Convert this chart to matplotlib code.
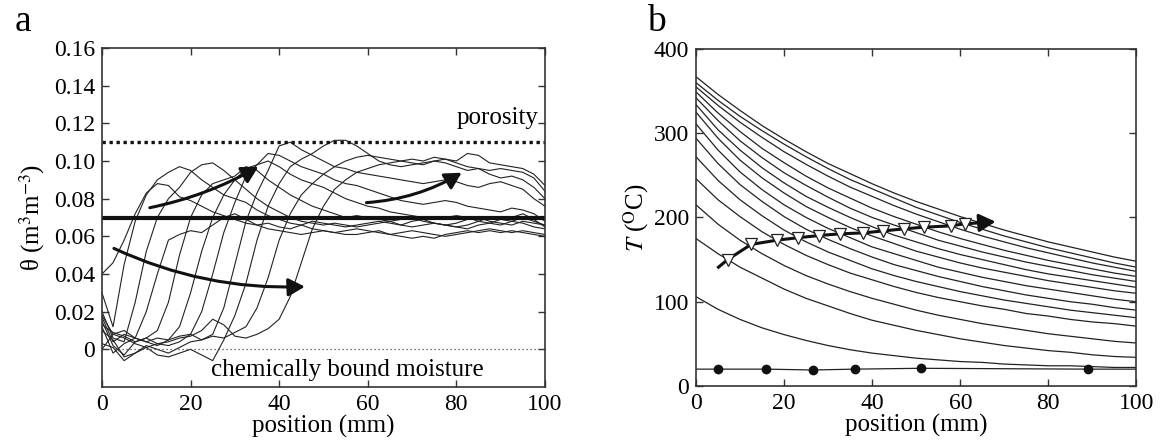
import matplotlib
matplotlib.use("Agg")
import matplotlib.pyplot as plt
import numpy as np

plt.rcParams["font.family"] = ["Liberation Serif", "DejaVu Serif"]
plt.rcParams["mathtext.fontset"] = "stix"

# ---- panel a: moisture profiles, sampled every 2.5 mm ----
pos_a = np.arange(0, 100.1, 2.5)
theta_profiles = [
    [0.040, 0.046, 0.058, 0.072, 0.083, 0.088, 0.087, 0.081, 0.079, 0.076, 0.073, 0.071, 0.069, 0.067,
     0.066, 0.067, 0.065, 0.064, 0.066, 0.068, 0.067, 0.066, 0.065, 0.066, 0.067, 0.068, 0.067, 0.066,
     0.068, 0.069, 0.067, 0.066, 0.065, 0.066, 0.068, 0.070, 0.069, 0.068, 0.070, 0.068, 0.066],
    [0.030, 0.012, 0.045, 0.068, 0.082, 0.090, 0.094, 0.097, 0.095, 0.090, 0.086, 0.082, 0.080, 0.078,
     0.074, 0.071, 0.069, 0.067, 0.066, 0.064, 0.063, 0.062, 0.063, 0.064, 0.063, 0.062, 0.061, 0.062,
     0.063, 0.062, 0.061, 0.060, 0.061, 0.062, 0.063, 0.064, 0.063, 0.062, 0.063, 0.062, 0.061],
    [0.020, 0.006, 0.004, 0.025, 0.052, 0.070, 0.080, 0.086, 0.094, 0.098, 0.099, 0.095, 0.090, 0.085,
     0.080, 0.076, 0.073, 0.070, 0.068, 0.067, 0.066, 0.067, 0.066, 0.065, 0.066, 0.067, 0.068, 0.066,
     0.065, 0.066, 0.067, 0.066, 0.065, 0.064, 0.066, 0.067, 0.066, 0.068, 0.067, 0.065, 0.064],
    [0.017, 0.004, 0.008, 0.006, 0.020, 0.040, 0.058, 0.061, 0.063, 0.062, 0.066, 0.070, 0.072, 0.069,
     0.066, 0.064, 0.063, 0.062, 0.061, 0.062, 0.063, 0.062, 0.061, 0.061, 0.062, 0.063, 0.061, 0.060,
     0.059, 0.060, 0.059, 0.061, 0.062, 0.063, 0.062, 0.063, 0.062, 0.063, 0.062, 0.061, 0.060],
    [0.015, 0.002, -0.003, 0.004, 0.006, 0.010, 0.025, 0.050, 0.070, 0.082, 0.088, 0.090, 0.092, 0.097,
     0.095, 0.090, 0.086, 0.082, 0.079, 0.076, 0.074, 0.072, 0.070, 0.071, 0.070, 0.069, 0.068, 0.069,
     0.070, 0.068, 0.067, 0.066, 0.067, 0.069, 0.070, 0.068, 0.067, 0.066, 0.068, 0.067, 0.066],
    [0.012, -0.002, 0.003, 0.006, 0.004, 0.002, 0.005, 0.012, 0.030, 0.052, 0.070, 0.082, 0.090, 0.096,
     0.098, 0.100, 0.097, 0.093, 0.090, 0.088, 0.086, 0.083, 0.080, 0.078, 0.076, 0.075, 0.073, 0.072,
     0.071, 0.070, 0.069, 0.070, 0.071, 0.070, 0.068, 0.067, 0.069, 0.070, 0.072, 0.069, 0.065],
    [0.010, 0.005, -0.004, -0.002, 0.001, 0.003, 0.002, 0.004, 0.008, 0.020, 0.040, 0.062, 0.078, 0.092,
     0.098, 0.104, 0.103, 0.100, 0.097, 0.095, 0.093, 0.090, 0.088, 0.087, 0.085, 0.083, 0.081, 0.079,
     0.078, 0.077, 0.078, 0.079, 0.078, 0.076, 0.075, 0.074, 0.073, 0.075, 0.074, 0.072, 0.068],
    [0.003, 0.001, -0.006, -0.002, 0.002, 0.000, -0.002, 0.001, 0.004, 0.005, 0.008, 0.022, 0.045, 0.068,
     0.083, 0.095, 0.108, 0.110, 0.106, 0.103, 0.100, 0.097, 0.096, 0.094, 0.093, 0.092, 0.091, 0.090,
     0.089, 0.088, 0.089, 0.090, 0.089, 0.087, 0.086, 0.088, 0.089, 0.087, 0.085, 0.080, 0.076],
    [0.000, 0.008, 0.006, 0.003, 0.001, -0.003, -0.004, -0.002, 0.000, -0.003, -0.006, 0.005, 0.018, 0.035,
     0.058, 0.076, 0.088, 0.097, 0.101, 0.104, 0.108, 0.111, 0.111, 0.108, 0.104, 0.100, 0.098, 0.097,
     0.098, 0.099, 0.100, 0.099, 0.097, 0.095, 0.096, 0.093, 0.091, 0.092, 0.090, 0.086, 0.080],
    [0.018, 0.008, 0.010, 0.006, 0.004, 0.006, 0.005, 0.007, 0.008, 0.005, 0.007, 0.006, 0.009, 0.012,
     0.022, 0.038, 0.058, 0.072, 0.082, 0.088, 0.093, 0.097, 0.100, 0.102, 0.103, 0.102, 0.101, 0.100,
     0.101, 0.100, 0.102, 0.101, 0.100, 0.104, 0.103, 0.099, 0.098, 0.097, 0.096, 0.093, 0.087],
    [0.013, 0.009, 0.007, 0.004, 0.006, 0.003, 0.004, 0.006, 0.007, 0.010, 0.016, 0.013, 0.007, 0.006,
     0.008, 0.011, 0.016, 0.028, 0.046, 0.064, 0.076, 0.085, 0.090, 0.094, 0.096, 0.098, 0.099, 0.100,
     0.099, 0.098, 0.100, 0.101, 0.099, 0.097, 0.096, 0.095, 0.096, 0.095, 0.094, 0.091, 0.084],
]
porosity = 0.11
initial_theta = 0.07
bound_moisture = 0.0
theta_ticks = [0, 0.02, 0.04, 0.06, 0.08, 0.10, 0.12, 0.14, 0.16]
theta_ticklabels = ["0", "0.02", "0.04", "0.06", "0.08", "0.10", "0.12", "0.14", "0.16"]

# ---- panel b: temperature profiles, sampled every 5 mm ----
pos_b = np.arange(0, 100.1, 5)
temp_profiles = [
    [367, 346, 327, 309, 293, 278, 264, 252, 240, 229, 219, 210, 201, 193, 185, 178, 171, 165, 159, 153, 148],
    [360, 339, 320, 303, 287, 272, 258, 245, 234, 223, 212, 203, 194, 186, 178, 171, 164, 158, 152, 146, 141],
    [355, 333, 313, 295, 278, 263, 249, 236, 225, 214, 204, 195, 186, 178, 171, 164, 158, 152, 146, 141, 136],
    [349, 324, 302, 282, 265, 249, 235, 223, 211, 201, 192, 183, 175, 168, 161, 155, 149, 144, 139, 134, 130],
    [342, 315, 291, 271, 253, 238, 224, 211, 200, 191, 182, 173, 166, 159, 153, 147, 142, 137, 132, 128, 124],
    [334, 304, 280, 259, 241, 225, 212, 200, 189, 179, 171, 163, 156, 150, 144, 138, 133, 129, 125, 121, 117],
    [325, 294, 268, 247, 229, 213, 200, 188, 178, 169, 160, 153, 146, 140, 135, 130, 125, 121, 117, 113, 110],
    [311, 280, 254, 233, 215, 200, 187, 176, 165, 157, 149, 141, 135, 129, 124, 119, 115, 111, 107, 103, 100],
    [294, 264, 239, 219, 201, 186, 174, 163, 153, 144, 137, 130, 124, 118, 113, 108, 104, 100, 97, 93, 90],
    [272, 244, 221, 202, 185, 171, 159, 149, 139, 131, 124, 118, 112, 107, 102, 98, 94, 90, 87, 84, 81],
    [246, 221, 201, 183, 168, 155, 144, 134, 126, 118, 111, 105, 100, 95, 91, 86, 83, 79, 76, 74, 71],
    [215, 192, 173, 157, 143, 131, 121, 112, 104, 97, 90, 84, 79, 74, 70, 66, 62, 59, 56, 53, 51],
    [175, 157, 141, 128, 115, 104, 95, 86, 78, 72, 66, 61, 56, 52, 48, 45, 42, 40, 37, 35, 34],
    [106, 91, 79, 69, 61, 54, 48, 43, 39, 36, 33, 31, 29, 28, 26, 25, 24, 24, 23, 22, 22],
]
ambient_pos = [5, 16, 26.5, 36, 51, 89]
ambient_temp = [20, 20, 19, 20, 21, 20]
front_pos = [7.2, 12.5, 18.3, 23.2, 28.0, 32.7, 38.0, 42.5, 47.2, 51.8, 57.8, 61.0]
front_temp = [150, 168, 173, 176, 178.6, 180.6, 181.7, 184, 186.5, 188.5, 190, 192.4]

FS = 17
LFS = 18

fig = plt.figure(figsize=(11.6, 4.45), dpi=100)
ax_a = fig.add_axes([0.0879, 0.1303, 0.3819, 0.7618])
ax_b = fig.add_axes([0.6000, 0.1326, 0.3797, 0.7574])

for ax in (ax_a, ax_b):
    ax.tick_params(direction="in", top=True, right=True, length=5, width=1,
                   labelsize=FS, color="#333333", pad=5)
    for s in ax.spines.values():
        s.set_linewidth(1.2)
        s.set_color("#333333")

# ---- panel a ----
for prof in theta_profiles:
    ax_a.plot(pos_a, prof, color="#222222", lw=0.8)
ax_a.axhline(porosity, color="#111111", lw=2.4, ls=(0, (1, 1.1)))
ax_a.axhline(initial_theta, color="#111111", lw=3.0)
ax_a.axhline(bound_moisture, color="#444444", lw=0.9, ls=(0, (1, 2.2)))
ax_a.text(98.5, 0.123, "porosity", ha="right", va="center", fontsize=LFS)
ax_a.text(55.5, -0.0112, "chemically bound moisture", ha="center", va="center", fontsize=LFS)

arrow_kw = dict(arrowstyle="-|>,head_length=0.55,head_width=0.3", color="#111111", lw=2.2,
                shrinkA=0, shrinkB=0, mutation_scale=18)
ax_a.annotate("", xy=(35.3, 0.097), xytext=(10.8, 0.0752),
              arrowprops=dict(connectionstyle="arc3,rad=0.08", **arrow_kw))
ax_a.annotate("", xy=(81.2, 0.0938), xytext=(59.7, 0.0779),
              arrowprops=dict(connectionstyle="arc3,rad=0.12", **arrow_kw))
ax_a.annotate("", xy=(45.8, 0.0333), xytext=(2.7, 0.0536),
              arrowprops=dict(connectionstyle="arc3,rad=0.12", **arrow_kw))

ax_a.set_xlim(0, 100)
ax_a.set_ylim(-0.02, 0.16)
ax_a.set_xticks([0, 20, 40, 60, 80, 100])
ax_a.set_yticks(theta_ticks)
ax_a.set_yticklabels(theta_ticklabels)
ax_a.set_xlabel("position (mm)", fontsize=LFS, labelpad=0)
ax_a.set_ylabel(r"θ (m$^{3}$m$^{-3}$)", fontsize=LFS, labelpad=5)

# ---- panel b ----
for prof in temp_profiles:
    ax_b.plot(pos_b, prof, color="#222222", lw=0.9)
ax_b.plot([0] + ambient_pos + [100], [20] + ambient_temp + [20], color="#222222", lw=0.9)
ax_b.plot(ambient_pos, ambient_temp, "o", color="#111111", ms=6)

ax_b.plot([5.1] + front_pos, [141] + front_temp, color="#111111", lw=2.2)
ax_b.annotate("", xy=(68, 195), xytext=(front_pos[-1], front_temp[-1]),
              arrowprops=dict(connectionstyle="arc3,rad=0", **arrow_kw))
ax_b.plot(front_pos, front_temp, "v", mfc="white", mec="#222222", mew=0.9, ms=8.5, zorder=5)

ax_b.set_xlim(0, 100)
ax_b.set_ylim(0, 400)
ax_b.set_xticks([0, 20, 40, 60, 80, 100])
ax_b.set_yticks([0, 100, 200, 300, 400])
ax_b.set_xlabel("position (mm)", fontsize=LFS, labelpad=0)
ax_b.set_ylabel(r"$T$ ($^{\rm O}$C)", fontsize=LFS, labelpad=2)

fig.text(0.013, 0.93, "a", fontsize=27, ha="left", va="baseline")
fig.text(0.558, 0.93, "b", fontsize=27, ha="left", va="baseline")

fig.savefig("out.png", dpi=100)
